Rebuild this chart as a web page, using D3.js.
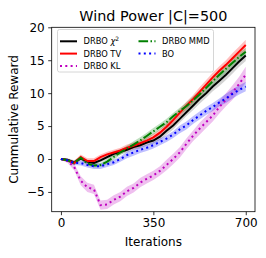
<!DOCTYPE html>
<html>
<head>
<meta charset="utf-8">
<script src="https://cdn.jsdelivr.net/npm/d3@7"></script>
<style>
  body { margin: 0; background: #fff; }
  text { font-family: "DejaVu Sans", sans-serif; fill: #000; }
</style>
</head>
<body>
<div id="chart"></div>
<script>
// iterations at which the curves were read
const iterations = [0, 25, 50, 75, 100, 125, 150, 175, 200, 225, 250, 275, 300, 325, 350,
  375, 400, 425, 450, 475, 500, 525, 550, 575, 600, 625, 650, 675, 700];

const chi2Mean = [0, -0.1, -0.5, 0.1, -0.4, -0.6, -0.2, 0.3, 0.8, 1.1, 1.4, 1.8, 2.1, 2.5, 2.8,
  3.4, 4.3, 5.1, 6.1, 7.1, 8.1, 9.1, 10.0, 11.0, 11.9, 12.8, 13.8, 14.8, 15.7];
const chi2Std = [0.1, 0.2, 0.3, 0.3, 0.3, 0.3, 0.3, 0.3, 0.4, 0.4, 0.4, 0.4, 0.5, 0.5, 0.5,
  0.5, 0.6, 0.6, 0.6, 0.6, 0.7, 0.7, 0.7, 0.7, 0.8, 0.8, 0.8, 0.8, 0.8];

const tvMean = [0, -0.2, -0.6, 0.3, -0.3, -0.3, 0.3, 0.7, 1.0, 1.3, 1.7, 2.0, 2.4, 2.8, 3.3,
  4.0, 4.9, 5.9, 7.0, 8.1, 9.1, 10.2, 11.3, 12.4, 13.4, 14.3, 15.3, 16.3, 17.3];
const tvStd = [0.1, 0.2, 0.3, 0.4, 0.4, 0.4, 0.4, 0.4, 0.4, 0.4, 0.5, 0.5, 0.5, 0.5, 0.5,
  0.5, 0.6, 0.6, 0.6, 0.6, 0.6, 0.7, 0.7, 0.7, 0.7, 0.7, 0.8, 0.8, 0.8];

const klMean = [0, -0.3, -1.2, -3.3, -4.3, -4.6, -7.0, -6.9, -6.2, -5.7, -4.9, -4.4, -3.6, -3.0, -2.5,
  -1.8, -0.9, 0.0, 1.0, 2.3, 3.5, 4.6, 5.6, 6.6, 7.9, 9.0, 10.1, 11.4, 12.8];
const klStd = [0.1, 0.3, 0.5, 0.7, 0.7, 0.7, 0.7, 0.7, 0.7, 0.7, 0.7, 0.7, 0.7, 0.7, 0.7,
  0.7, 0.8, 0.8, 0.8, 0.8, 0.8, 0.9, 0.9, 0.9, 1.0, 1.0, 1.1, 1.1, 1.2];

const mmdMean = [0, -0.2, -0.6, 0.2, -0.7, -1.0, -0.9, -0.4, 0.3, 1.0, 1.6, 2.2, 2.8, 3.5, 4.2,
  4.9, 5.6, 6.5, 7.3, 8.0, 8.9, 9.8, 10.8, 11.8, 12.8, 13.7, 14.6, 15.5, 16.3];
const mmdStd = [0.1, 0.2, 0.3, 0.3, 0.3, 0.3, 0.3, 0.4, 0.4, 0.4, 0.4, 0.5, 0.5, 0.5, 0.5,
  0.5, 0.5, 0.5, 0.5, 0.6, 0.6, 0.6, 0.6, 0.6, 0.6, 0.6, 0.6, 0.6, 0.6];

const boMean = [0, -0.2, -0.6, -0.6, -0.9, -1.1, -1.1, -0.8, -0.5, 0.0, 0.6, 1.0, 1.4, 1.7, 2.1,
  2.6, 3.1, 3.7, 4.5, 5.1, 5.9, 6.6, 7.3, 7.9, 8.6, 9.2, 9.9, 10.5, 11.0];
const boStd = [0.1, 0.2, 0.3, 0.4, 0.4, 0.4, 0.4, 0.4, 0.4, 0.4, 0.5, 0.5, 0.5, 0.5, 0.5,
  0.5, 0.5, 0.5, 0.6, 0.6, 0.6, 0.6, 0.6, 0.6, 0.6, 0.7, 0.7, 0.7, 0.7];

const xTicks = [0, 350, 700];
const yTicks = [-5, 0, 5, 10, 15, 20];

const series = [
  {name: "chi2", mean: chi2Mean, std: chi2Std, color: "#000000", band: "#808080", dash: null},
  {name: "DRBO TV", mean: tvMean, std: tvStd, color: "#ff0000", band: "#ff0000", dash: null},
  {name: "DRBO KL", mean: klMean, std: klStd, color: "#bf00bf", band: "#bf00bf", dash: "2,3.3"},
  {name: "DRBO MMD", mean: mmdMean, std: mmdStd, color: "#008000", band: "#008000", dash: "9.6,2.4,1.5,2.4"},
  {name: "BO", mean: boMean, std: boStd, color: "#0000ff", band: "#0000ff", dash: "2,3.3"}
];

const W = 266, H = 258;
const margin = {top: 27.3, right: 11, bottom: 46.3, left: 51.7};
const width = W - margin.left - margin.right;
const height = H - margin.top - margin.bottom;

const svg = d3.select("#chart").append("svg")
  .attr("width", W)
  .attr("height", H);

const x = d3.scaleLinear().domain([-35, 735]).range([0, width]);
const y = d3.scaleLinear().domain([-8, 20]).range([height, 0]);

const g = svg.append("g")
  .attr("transform", `translate(${margin.left},${margin.top})`);

g.append("clipPath").attr("id", "clip")
  .append("rect").attr("width", width).attr("height", height);

const plot = g.append("g").attr("clip-path", "url(#clip)");

// bands first, then lines
series.forEach(s => {
  const area = d3.area()
    .x((d, i) => x(iterations[i]))
    .y0((d, i) => y(s.mean[i] - s.std[i]))
    .y1((d, i) => y(s.mean[i] + s.std[i]));
  plot.append("path")
    .datum(s.mean)
    .attr("d", area)
    .attr("fill", s.band)
    .attr("fill-opacity", s.name == "chi2" ? 0.35 : 0.25);
});

series.forEach(s => {
  const line = d3.line()
    .x((d, i) => x(iterations[i]))
    .y(d => y(d));
  plot.append("path")
    .datum(s.mean)
    .attr("d", line)
    .attr("fill", "none")
    .attr("stroke", s.color)
    .attr("stroke-width", 2)
    .attr("stroke-dasharray", s.dash);
});

// axes
const xAxis = g.append("g")
  .attr("transform", `translate(0,${height})`)
  .call(d3.axisBottom(x).tickValues(xTicks).tickSize(3.5).tickPadding(3.5));
const yAxis = g.append("g")
  .call(d3.axisLeft(y).tickValues(yTicks).tickSize(3.5).tickPadding(3.5)
    .tickFormat(d => d < 0 ? "\u2212" + Math.abs(d) : d));

[xAxis, yAxis].forEach(a => {
  a.select(".domain").remove();
  a.selectAll(".tick line").attr("stroke", "#000").attr("stroke-width", 0.8);
  a.selectAll(".tick text").attr("font-size", 12).attr("font-family", "DejaVu Sans");
});

g.append("rect")
  .attr("width", width)
  .attr("height", height)
  .attr("fill", "none")
  .attr("stroke", "#000")
  .attr("stroke-width", 0.8);

// titles
svg.append("text")
  .attr("x", margin.left + width / 2)
  .attr("y", 20.5)
  .attr("text-anchor", "middle")
  .attr("font-size", 14.4)
  .text("Wind Power |C|=500");

svg.append("text")
  .attr("x", margin.left + width / 2)
  .attr("y", 246)
  .attr("text-anchor", "middle")
  .attr("font-size", 12)
  .text("Iterations");

svg.append("text")
  .attr("transform", `translate(17.5,${margin.top + height / 2}) rotate(-90)`)
  .attr("text-anchor", "middle")
  .attr("font-size", 12)
  .text("Cummulative Reward");

// legend
const legend = svg.append("g").attr("class", "legend");
legend.append("rect")
  .attr("x", 57.5).attr("y", 29.5)
  .attr("width", 156).attr("height", 42.5)
  .attr("rx", 2)
  .attr("fill", "#fff").attr("fill-opacity", 0.8)
  .attr("stroke", "#cccccc").attr("stroke-width", 0.8);

const slots = [
  {col: 0, row: 0}, {col: 0, row: 1}, {col: 0, row: 2},
  {col: 1, row: 0}, {col: 1, row: 1}
];
const colX = [60, 138.5];
const rowY = [41.3, 53.6, 65.9];

series.forEach((s, i) => {
  const sx = colX[slots[i].col], sy = rowY[slots[i].row];
  legend.append("line")
    .attr("x1", sx).attr("x2", sx + 17)
    .attr("y1", sy).attr("y2", sy)
    .attr("stroke", s.color)
    .attr("stroke-width", 2)
    .attr("stroke-dasharray", s.dash);
  const t = legend.append("text")
    .attr("x", sx + 23.5)
    .attr("y", sy + 3)
    .attr("font-size", 8.3);
  if (s.name == "chi2") {
    t.append("tspan").text("DRBO ");
    t.append("tspan").attr("font-style", "italic").text("\u03c7");
    t.append("tspan").attr("font-size", 6).attr("dy", -3.5).text("2");
  } else {
    t.text(s.name);
  }
});
</script>
</body>
</html>
